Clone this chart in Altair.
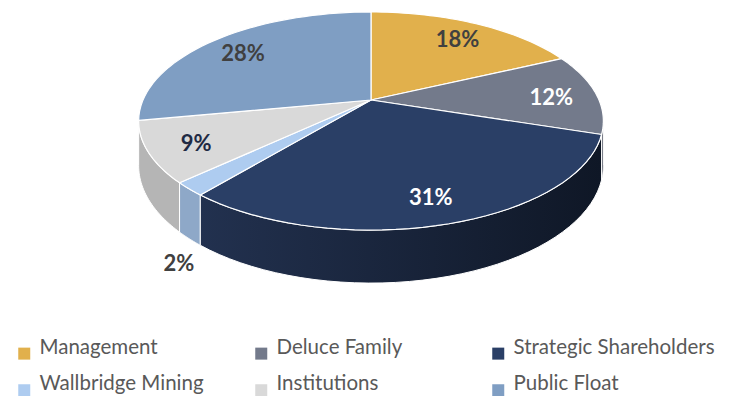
import altair as alt
import pandas as pd

# ---- data ----
categories = ["Management", "Deluce Family", "Strategic Shareholders",
              "Wallbridge Mining", "Institutions", "Public Float"]
shares = [18, 12, 31, 2, 9, 28]

# ---- styles ----
top_colors = ["#E1B04C", "#737A8B", "#2A3F66", "#AECCF0", "#D9D9D9", "#7F9EC3"]
side_colors = ["#A88437", "#4E5463", "#1A253D", "#8EA8C8", "#B5B5B5", "#5F7A9E"]
label_colors = ["#404040", "#FFFFFF", "#FFFFFF", "#404040", "#1F2A44", "#404040"]

df = pd.DataFrame({"category": categories, "share": shares,
                   "idx": list(range(len(categories)))})

# projection of the tilted disk (layout constants, in page pixels)
P, CX, CY, RX, RY, DEPTH = 0.1927, 371, 100, 228, 105, 42.8
N = 40
W, H = 719, 388

x_enc = alt.X("X:Q", scale=alt.Scale(domain=[8, 8 + W], nice=False, zero=False), axis=None)
y_enc = alt.Y("Y:Q", scale=alt.Scale(domain=[8, 8 + H], nice=False, zero=False, reverse=True),
              axis=None)

base = (
    alt.Chart(df)
    .transform_window(cum="sum(share)", sort=[alt.SortField("idx")], frame=[None, 0])
    .transform_joinaggregate(total="sum(share)")
    .transform_calculate(start="100*(datum.cum - datum.share)/datum.total")
    .transform_calculate(end="100*datum.cum/datum.total")
)

# ---- top face ----
top = (
    base.transform_calculate(k=f"sequence(0, {N + 2})")
    .transform_flatten(["k"])
    .transform_calculate(f=f"datum.k > {N} ? 0 : 1")
    .transform_calculate(a=f"2*PI*(datum.start + (datum.end - datum.start)*min(datum.k, {N})/{N})/100")
    .transform_calculate(w=f"1 + {P}*datum.f*cos(datum.a)")
    .transform_calculate(X=f"{CX} + {RX}*datum.f*sin(datum.a)/datum.w")
    .transform_calculate(Y=f"{CY} - {RY}*datum.f*cos(datum.a)/datum.w")
    .mark_line(interpolate="linear-closed", filled=True, stroke="white", strokeWidth=1.2,
               strokeJoin="round")
    .encode(
        x=x_enc, y=y_enc,
        order=alt.Order("k:Q"),
        detail="category:N",
        color=alt.Color(
            "category:N",
            scale=alt.Scale(domain=categories, range=top_colors),
            legend=alt.Legend(
                title=None, orient="none", legendX=6, legendY=335,
                direction="horizontal", columns=3, gridAlign="all",
                columnPadding=10, rowPadding=14,
                symbolType="square", symbolSize=144, symbolStrokeWidth=0,
                labelFont="Lato", labelFontSize=20.5, labelColor="#595959",
                labelBaseline="alphabetic", labelOffset=5, labelLimit=400,
            ),
        ),
    )
)

# ---- side wall (visible front part only) ----
lo = f"(25 + 100*asin({P})/(2*PI))"
hi = f"(75 - 100*asin({P})/(2*PI))"
wall_base = (
    base.transform_calculate(a0=f"max(datum.start, {lo})")
    .transform_calculate(a1=f"min(datum.end, {hi})")
    .transform_filter("datum.a1 > datum.a0")
    .transform_calculate(k=f"sequence(0, {2 * N + 2})")
    .transform_flatten(["k"])
    .transform_calculate(
        pct=f"datum.k <= {N} ? datum.a0 + (datum.a1 - datum.a0)*datum.k/{N} "
            f": datum.a1 - (datum.a1 - datum.a0)*(datum.k - {N + 1})/{N}")
    .transform_calculate(a="2*PI*datum.pct/100")
    .transform_calculate(drop=f"datum.k > {N} ? {DEPTH} : 0")
    .transform_calculate(w=f"1 + {P}*cos(datum.a)")
    .transform_calculate(X=f"{CX} + {RX}*sin(datum.a)/datum.w")
    .transform_calculate(Y=f"{CY} + (-{RY}*cos(datum.a) + datum.drop)/datum.w")
)

wall_other = (
    wall_base.transform_filter("datum.category != 'Strategic Shareholders'")
    .mark_line(interpolate="linear-closed", filled=True, stroke="white", strokeWidth=1)
    .encode(
        x=x_enc, y=y_enc, order=alt.Order("k:Q"), detail="category:N",
        fill=alt.Fill("category:N", scale=alt.Scale(domain=categories, range=side_colors),
                      legend=None),
    )
)

navy_grad = alt.LinearGradient(
    gradient="linear",
    stops=[alt.GradientStop(color="#22314F", offset=0),
           alt.GradientStop(color="#0F1726", offset=1)],
    x1=0, x2=1, y1=0, y2=0,
)
wall_navy = (
    wall_base.transform_filter("datum.category == 'Strategic Shareholders'")
    .mark_line(interpolate="linear-closed", filled=True, fill=navy_grad, stroke="white",
               strokeWidth=1)
    .encode(x=x_enc, y=y_enc, order=alt.Order("k:Q"), detail="category:N")
)

# ---- percentage labels ----
labels = (
    base.transform_calculate(m="2*PI*(datum.start + datum.end)/200")
    .transform_calculate(out="datum.share < 5 ? 1 : 0")
    .transform_calculate(f="datum.out ? 1.05 : 0.8")
    .transform_calculate(w=f"1 + {P}*datum.f*cos(datum.m)")
    .transform_calculate(X=f"{CX} + {RX}*datum.f*sin(datum.m)/datum.w")
    .transform_calculate(
        Y=f"{CY} + (-{RY}*datum.f*cos(datum.m) + datum.out*{DEPTH})/datum.w + datum.out*17 + 3")
    .transform_calculate(txt="format(datum.share/datum.total, '.0%')")
    .mark_text(font="Lato", fontWeight="bold", fontSize=22)
    .encode(
        x=x_enc, y=y_enc, text="txt:N",
        fill=alt.Fill("category:N", scale=alt.Scale(domain=categories, range=label_colors),
                      legend=None),
    )
)

chart = (
    alt.layer(wall_other, wall_navy, top, labels)
    .resolve_scale(fill="independent")
    .properties(width=W, height=H, autosize="none", padding=0, background="white")
    .configure_view(stroke=None)
)

chart.save("out.html", embed_options={"renderer": "svg", "actions": False})
